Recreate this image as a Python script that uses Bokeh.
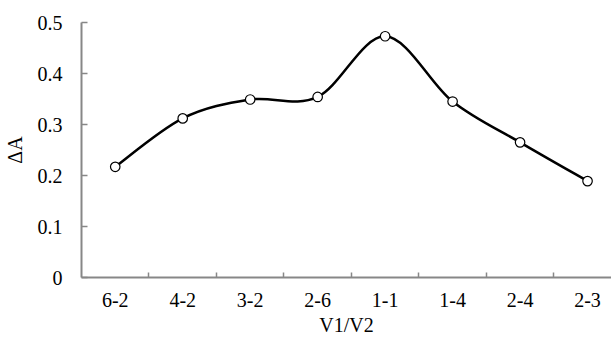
from bokeh.plotting import figure
from bokeh.models import Range1d, FixedTicker
from bokeh.embed import file_html
from bokeh.resources import INLINE

# ---- data ----
categories = ["6-2", "4-2", "3-2", "2-6", "1-1", "1-4", "2-4", "2-3"]
delta_a = [0.217, 0.312, 0.349, 0.354, 0.473, 0.345, 0.265, 0.189]
y_ticks = [0, 0.1, 0.2, 0.3, 0.4, 0.5]
y_tick_labels = ["0", "0.1", "0.2", "0.3", "0.4", "0.5"]

n = len(categories)
xs = [i + 0.5 for i in range(n)]

# smoothed line (Catmull-Rom style Bezier segments through the data points)
x0s, y0s, x1s, y1s, cx0s, cy0s, cx1s, cy1s = [], [], [], [], [], [], [], []
for i in range(n - 1):
    pa = (xs[max(i - 1, 0)], delta_a[max(i - 1, 0)])
    p1 = (xs[i], delta_a[i])
    p2 = (xs[i + 1], delta_a[i + 1])
    pb = (xs[min(i + 2, n - 1)], delta_a[min(i + 2, n - 1)])
    x0s.append(p1[0]); y0s.append(p1[1])
    x1s.append(p2[0]); y1s.append(p2[1])
    cx0s.append(p1[0] + (p2[0] - pa[0]) / 6.0)
    cy0s.append(p1[1] + (p2[1] - pa[1]) / 6.0)
    cx1s.append(p2[0] - (pb[0] - p1[0]) / 6.0)
    cy1s.append(p2[1] - (pb[1] - p1[1]) / 6.0)

FONT = "'Liberation Serif'"
AXIS_COLOR = "#878787"

p = figure(width=611, height=338, output_backend="svg", toolbar_location=None,
           x_range=Range1d(0, 7.855), y_range=Range1d(0, 0.5),
           min_border_left=80, min_border_right=0, min_border_top=22, min_border_bottom=61)
p.outline_line_color = None
p.xgrid.visible = False
p.ygrid.visible = False
p.background_fill_color = "white"
p.border_fill_color = "white"

p.bezier(x0=x0s, y0=y0s, x1=x1s, y1=y1s, cx0=cx0s, cy0=cy0s, cx1=cx1s, cy1=cy1s,
         line_color="black", line_width=2.5)
p.scatter(xs, delta_a, size=9.5, marker="circle", fill_color="white",
          line_color="black", line_width=1.2)

# x axis
xa = p.xaxis[0]
xa.ticker = FixedTicker(ticks=xs, minor_ticks=[i for i in range(1, n)])
xa.major_label_overrides = {x: c for x, c in zip(xs, categories)}
xa.major_tick_line_color = None
xa.minor_tick_in = 5
xa.minor_tick_out = 0
xa.minor_tick_line_color = AXIS_COLOR
xa.minor_tick_line_width = 1.5
xa.axis_line_color = AXIS_COLOR
xa.axis_line_width = 2
xa.major_label_standoff = 9
xa.major_label_text_font = FONT
xa.major_label_text_font_size = "20px"
xa.major_label_text_color = "black"
xa.axis_label = "V1/V2"
xa.axis_label_text_font = FONT
xa.axis_label_text_font_size = "20px"
xa.axis_label_text_font_style = "normal"
xa.axis_label_text_color = "black"
xa.axis_label_standoff = 4

# y axis
ya = p.yaxis[0]
ya.ticker = FixedTicker(ticks=y_ticks)
ya.major_label_overrides = {t: l for t, l in zip(y_ticks, y_tick_labels)}
ya.major_tick_in = 6
ya.major_tick_out = 0
ya.major_tick_line_color = AXIS_COLOR
ya.major_tick_line_width = 1.5
ya.minor_tick_line_color = None
ya.axis_line_color = AXIS_COLOR
ya.axis_line_width = 2
ya.major_label_standoff = 19
ya.major_label_text_font = FONT
ya.major_label_text_font_size = "20px"
ya.major_label_text_color = "black"
ya.axis_label = "ΔA"
ya.axis_label_text_font = FONT
ya.axis_label_text_font_size = "20px"
ya.axis_label_text_font_style = "normal"
ya.axis_label_text_color = "black"
ya.axis_label_standoff = 9

open("out.html", "w").write(file_html(p, INLINE))
